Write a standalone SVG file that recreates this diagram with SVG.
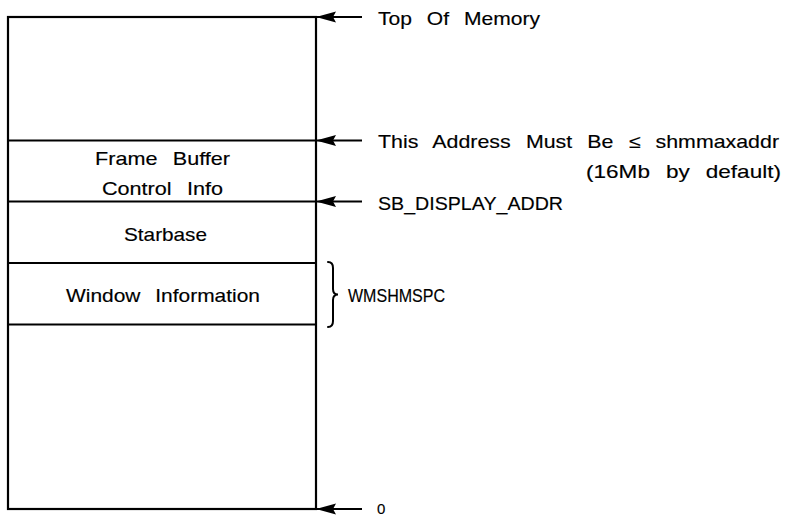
<svg xmlns="http://www.w3.org/2000/svg" width="786" height="516" viewBox="0 0 786 516">
  <style>
    .frame { fill: none; stroke: #000; stroke-width: 2.2; }
    .div { stroke: #000; stroke-width: 2.2; }
    .ptr { stroke: #000; stroke-width: 2; fill: none; marker-end: url(#head); }
    .brace { stroke: #000; stroke-width: 2; fill: none; stroke-linecap: round; }
    text { font-family: "Liberation Sans", Arial, sans-serif; font-size: 18.5px; fill: #000; stroke: #000; stroke-width: 0.15; word-spacing: 8px; }
    .mid { text-anchor: middle; }
    .end { text-anchor: end; }
  </style>
  <defs>
    <marker id="head" markerUnits="userSpaceOnUse" markerWidth="20" markerHeight="12" viewBox="0 0 20 12" refX="20" refY="6" orient="auto">
      <path d="M20,6 L0,0.5 L3,6 L0,11.5 Z" fill="#000"/>
    </marker>
  </defs>

  <!-- memory map column -->
  <g id="memory-map">
    <rect class="frame" x="8" y="17" width="308" height="492"/>
  </g>

  <g id="frame-buffer">
    <line class="div" x1="8" y1="140.5" x2="316" y2="140.5"/>
    <text class="mid" x="162.5" y="164.5" textLength="135" lengthAdjust="spacingAndGlyphs">Frame Buffer</text>
    <text class="mid" x="162.5" y="195" textLength="121" lengthAdjust="spacingAndGlyphs">Control Info</text>
  </g>

  <g id="starbase">
    <line class="div" x1="8" y1="201.5" x2="316" y2="201.5"/>
    <text class="mid" x="165.5" y="241" textLength="83" lengthAdjust="spacingAndGlyphs">Starbase</text>
  </g>

  <g id="window-info">
    <line class="div" x1="8" y1="263" x2="316" y2="263"/>
    <line class="div" x1="8" y1="324.5" x2="316" y2="324.5"/>
    <text class="mid" x="163" y="301.5" textLength="194" lengthAdjust="spacingAndGlyphs">Window Information</text>
  </g>

  <!-- address pointers -->
  <g id="connectors">
    <line class="ptr" x1="362" y1="17" x2="316" y2="17"/>
    <line class="ptr" x1="362" y1="140.5" x2="316" y2="140.5"/>
    <line class="ptr" x1="362" y1="201.5" x2="316" y2="201.5"/>
    <line class="ptr" x1="362" y1="509" x2="316" y2="509"/>
    <path class="brace" d="M328,262 Q333,262 333,268 L333,289 Q333,294.5 338,294.5 Q333,294.5 333,300 L333,321 Q333,327 328,327"/>
  </g>

  <g id="labels">
    <text x="378" y="24.5" textLength="162" lengthAdjust="spacingAndGlyphs">Top Of Memory</text>
    <text x="378" y="148" textLength="401" lengthAdjust="spacingAndGlyphs">This Address Must Be ≤ shmmaxaddr</text>
    <text x="781" y="178" class="end" textLength="195" lengthAdjust="spacingAndGlyphs">(16Mb by default)</text>
    <text x="378" y="210" textLength="185" lengthAdjust="spacingAndGlyphs">SB_DISPLAY_ADDR</text>
    <text x="348" y="301.5" textLength="97" lengthAdjust="spacingAndGlyphs">WMSHMSPC</text>
    <text x="377" y="514" style="font-size:15px">0</text>
  </g>
</svg>
